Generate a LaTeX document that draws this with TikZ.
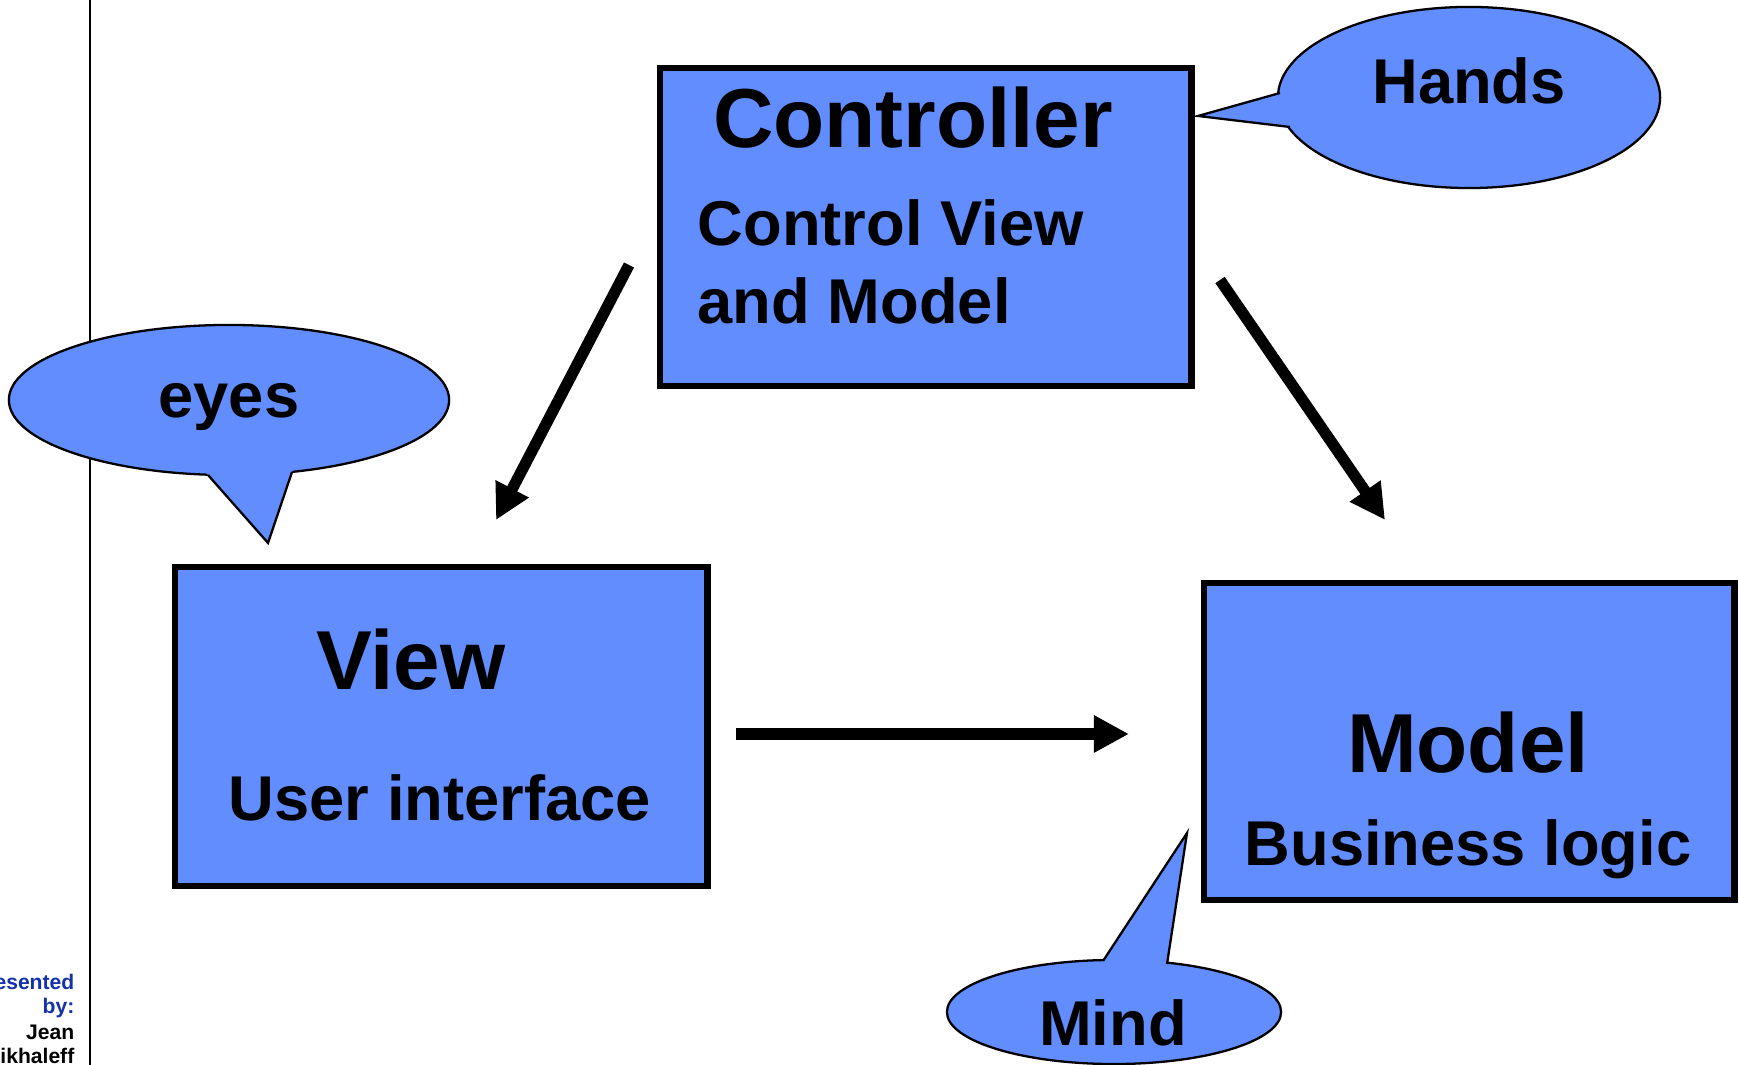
\documentclass[tikz,border=0pt]{standalone}
\usepackage{fontspec}
\setmainfont{Liberation Sans}
\usetikzlibrary{arrows.meta,shapes.geometric,calc}
\definecolor{boxblue}{RGB}{97,141,255}
\definecolor{creditblue}{RGB}{20,50,170}
\tikzset{
  block/.style={rectangle, draw=black, line width=1.9pt, fill=boxblue, inner sep=0pt},
  bubble/.style={ellipse, draw=black, line width=0.65pt, fill=boxblue, inner sep=0pt},
  tailfill/.style={fill=boxblue},
  tailedge/.style={draw=black, line width=0.65pt, line join=miter},
  flow/.style={line width=3.2pt, -{Triangle[length=10pt,width=10pt]}},
  title/.style={font=\fontsize{23.8}{28}\selectfont\bfseries, inner sep=0pt, anchor=base},
  sub/.style={font=\fontsize{18}{21.5}\selectfont\bfseries, inner sep=0pt, anchor=base},
  credit/.style={font=\fontsize{6}{7}\selectfont\bfseries, inner sep=0pt, anchor=base east},
}
% callout tail: #1 = first base point, #2 = tip, #3 = second base point
\newcommand{\callouttail}[3]{%
  \fill[tailfill] ($(#2)!1.2!(#1)$) -- (#2) -- ($(#2)!1.2!(#3)$) -- cycle;
  \draw[tailedge] (#1) -- (#2) -- (#3);
}
\begin{document}
\begin{tikzpicture}[x=0.01cm, y=-0.01cm]
\path[use as bounding box] (0,0) rectangle (1740,1065);
\clip (0,0) rectangle (1740,1065);

% side rule and credits
\draw[line width=0.6pt] (90,0) -- (90,1065);
\node[credit, text=creditblue] (cr1) at (75,989) {esented};
\node[credit, text=creditblue] (cr2) at (75,1013) {by:};
\node[credit] (cr3) at (75,1039) {Jean};
\node[credit] (cr4) at (75,1063) {ikhaleff};

% main blocks
\node[block, minimum width=5.31cm, minimum height=3.18cm] (ctrl) at (925.5,227) {};
\node[block, minimum width=5.32cm, minimum height=3.19cm] (view) at (441,726.5) {};
\node[block, minimum width=5.30cm, minimum height=3.17cm] (model) at (1469,741.5) {};

\node[title] (ctrlT) at (913,148) {Controller};
\node[sub, anchor=base west] (ctrlS1) at (697,246) {Control View};
\node[sub, anchor=base west] (ctrlS2) at (697,324) {and Model};

\node[title] (viewT) at (411,690) {View};
\node[sub] (viewS) at (440,821) {User interface};

\node[title] (modelT) at (1468,773) {Model};
\node[sub] (modelS) at (1468,866) {Business logic};

% callouts
\node[bubble, minimum width=3.82cm, minimum height=1.81cm] (hands) at (1469,97.5) {};
\coordinate (handsA) at (1280,93);
\coordinate (handsTip) at (1198,116);
\coordinate (handsB) at (1290,127);
\callouttail{handsA}{handsTip}{handsB}
\node[sub] (handsT) at (1469,104) {Hands};

\node[bubble, minimum width=4.40cm, minimum height=1.50cm] (eyes) at (229,400) {};
\coordinate (eyesA) at (208,475);
\coordinate (eyesTip) at (268,543);
\coordinate (eyesB) at (292,472);
\callouttail{eyesA}{eyesTip}{eyesB}
\node[sub] (eyesT) at (229,418) {eyes};

\node[bubble, minimum width=3.34cm, minimum height=1.04cm] (mind) at (1114,1012) {};
\coordinate (mindA) at (1103,961);
\coordinate (mindTip) at (1187,833);
\coordinate (mindB) at (1167,964);
\callouttail{mindA}{mindTip}{mindB}
\node[sub] (mindT) at (1113,1045) {Mind};

% flows between the blocks
\coordinate (c2vS) at (629,265);
\coordinate (c2vE) at (496,520);
\coordinate (c2mS) at (1220,280);
\coordinate (c2mE) at (1385,520);
\coordinate (v2mS) at (736,734);
\coordinate (v2mE) at (1129,734);
\draw[flow] (c2vS) -- (c2vE);
\draw[flow] (c2mS) -- (c2mE);
\draw[flow] (v2mS) -- (v2mE);
\end{tikzpicture}
\end{document}
